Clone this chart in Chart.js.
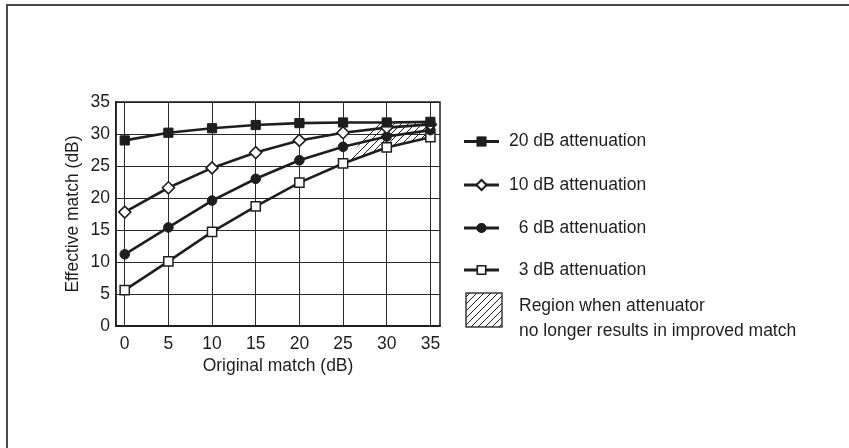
<!DOCTYPE html>
<html lang="en">
<head>
<meta charset="UTF-8">
<title>Effective match vs original match</title>
<script src="https://cdn.jsdelivr.net/npm/chart.js"></script>
<style>
  html, body { margin: 0; padding: 0; background: #fff; }
  #wrap { position: relative; width: 849px; height: 448px; }
</style>
</head>
<body>
<div id="wrap"><canvas id="grafico"></canvas></div>

<script>
// data
const originalMatch = [0, 5, 10, 15, 20, 25, 30, 35];
const att20 = [29.0, 30.2, 30.9, 31.4, 31.7, 31.8, 31.8, 31.9];
const att10 = [17.8, 21.6, 24.7, 27.1, 29.0, 30.2, 31.0, 31.5];
const att6  = [11.2, 15.4, 19.6, 23.0, 25.9, 28.0, 29.6, 30.6];
const att3  = [5.6, 10.1, 14.7, 18.7, 22.4, 25.4, 27.9, 29.5];
const regionX = [25, 29, 35, 35, 30, 25];
const regionY = [25.4, 31.8, 31.9, 29.5, 27.9, 25.4];
const xTicks = [0, 5, 10, 15, 20, 25, 30, 35];
const seriesLabels = ['20 dB attenuation', '10 dB attenuation', '6 dB attenuation', '3 dB attenuation'];
const regionLabel = ['Region when attenuator', 'no longer results in improved match'];

const ink = '#1e1e1e';
const fontFam = '"Liberation Sans", Arial, sans-serif';

function pts(ys) {
    return originalMatch.map(function (x, i) { return { x: x, y: ys[i] } })
}

// hatch pattern for the region
function hatch() {
    let c = document.createElement('canvas')
    c.width = 7; c.height = 7
    let g = c.getContext('2d')
    g.strokeStyle = ink
    g.lineWidth = 1
    g.beginPath()
    g.moveTo(0, 7); g.lineTo(7, 0)
    g.moveTo(-1, 1); g.lineTo(1, -1)
    g.moveTo(6, 8); g.lineTo(8, 6)
    g.stroke()
    return g.createPattern(c, 'repeat')
}
const hatchFill = hatch()

const styles = [
    { pointStyle: 'rect', radius: 6.5, fill: ink, bw: 1 },
    { pointStyle: 'rectRot', radius: 6, fill: '#fff', bw: 1.6 },
    { pointStyle: 'circle', radius: 4.8, fill: ink, bw: 1 },
    { pointStyle: 'rect', radius: 6.5, fill: '#fff', bw: 1.5 }
]
const series = [att20, att10, att6, att3]

let datasets = series.map(function (s, i) {
    return {
        label: seriesLabels[i],
        data: pts(s),
        borderColor: ink,
        borderWidth: 2.6,
        pointStyle: styles[i].pointStyle,
        pointRadius: styles[i].radius,
        pointBackgroundColor: styles[i].fill,
        pointBorderColor: ink,
        pointBorderWidth: styles[i].bw,
        fill: false,
        tension: 0
    }
})
datasets.push({
    label: 'region',
    data: regionX.map(function (x, i) { return { x: x, y: regionY[i] } }),
    borderWidth: 0,
    borderColor: 'rgba(0,0,0,0)',
    backgroundColor: hatchFill,
    pointRadius: 0,
    fill: 'shape',
    tension: 0
})

// frame round the plot, outer border, and the legend on the right
const extras = {
    id: 'extras',
    beforeDraw(chart) {
        const ctx = chart.ctx
        ctx.save()
        ctx.strokeStyle = '#4a4a4a'
        ctx.lineWidth = 2
        ctx.beginPath()
        ctx.moveTo(7, 448); ctx.lineTo(7, 5); ctx.lineTo(849, 5)
        ctx.stroke()
        ctx.restore()
    },
    afterDraw(chart) {
        const ctx = chart.ctx
        const a = chart.chartArea
        ctx.save()
        ctx.strokeStyle = ink
        ctx.lineWidth = 1.5
        ctx.strokeRect(a.left, a.top, a.right - a.left, a.bottom - a.top)

        ctx.font = '17.5px ' + fontFam
        ctx.fillStyle = ink
        ctx.textBaseline = 'middle'
        const x0 = a.right + 24, x1 = a.right + 59, xm = (x0 + x1) / 2
        const tx = a.right + 69
        const rowY = [141.5, 185, 228, 270]
        const wide = ctx.measureText('20').width
        seriesLabels.forEach(function (lab, i) {
            const y = rowY[i]
            ctx.strokeStyle = ink
            ctx.lineWidth = 3
            ctx.beginPath(); ctx.moveTo(x0, y); ctx.lineTo(x1, y); ctx.stroke()
            Chart.helpers.drawPoint(ctx, {
                pointStyle: styles[i].pointStyle, radius: styles[i].radius * 0.75, borderWidth: 1.3
            }, xm, y)
            ctx.fillStyle = styles[i].fill
            ctx.strokeStyle = ink
            ctx.lineWidth = 1.3
            ctx.beginPath()
            if (styles[i].pointStyle === 'circle') {
                ctx.arc(xm, y, styles[i].radius * 0.8, 0, Math.PI * 2)
            } else if (styles[i].pointStyle === 'rectRot') {
                const r = styles[i].radius * 0.75
                ctx.moveTo(xm, y - r); ctx.lineTo(xm + r, y); ctx.lineTo(xm, y + r); ctx.lineTo(xm - r, y); ctx.closePath()
            } else {
                const h = styles[i].radius * 0.62
                ctx.rect(xm - h, y - h, 2 * h, 2 * h)
            }
            ctx.fill(); ctx.stroke()
            const num = lab.split(' ')[0]
            ctx.fillStyle = ink
            ctx.fillText(lab, tx + wide - ctx.measureText(num).width, y)
        })

        // hatched legend box
        ctx.fillStyle = hatchFill
        ctx.fillRect(a.right + 26, 293, 36, 34)
        ctx.strokeStyle = ink
        ctx.lineWidth = 1.3
        ctx.strokeRect(a.right + 26, 293, 36, 34)
        ctx.fillStyle = ink
        ctx.fillText(regionLabel[0], a.right + 79, 306.5)
        ctx.fillText(regionLabel[1], a.right + 79, 331.5)
        ctx.restore()
    }
}

const config = {
    type: 'line',
    data: { datasets: datasets },
    plugins: [extras],
    options: {
        responsive: false,
        animation: false,
        devicePixelRatio: 1,
        layout: { padding: { left: 50, top: 102, right: 409, bottom: 71 } },
        plugins: {
            legend: { display: false },
            tooltip: { enabled: false },
            filler: { propagate: false }
        },
        scales: {
            x: {
                type: 'linear',
                min: -1,
                max: 36.1,
                afterBuildTicks: function (scale) {
                    scale.ticks = xTicks.map(function (v) { return { value: v } })
                },
                afterFit: function (scale) { scale.height = 51 },
                grid: { color: '#2a2a2a', lineWidth: 1, drawTicks: false },
                border: { display: true, color: ink, width: 1.5 },
                ticks: { color: ink, padding: 8, font: { family: fontFam, size: 17.5 } },
                title: {
                    display: true, text: 'Original match (dB)', color: ink,
                    padding: { top: 0, bottom: 0 },
                    font: { family: fontFam, size: 17.5 }
                }
            },
            y: {
                min: 0,
                max: 35,
                afterFit: function (scale) { scale.width = 66 },
                grid: { color: '#2a2a2a', lineWidth: 1, drawTicks: false },
                border: { display: true, color: ink, width: 1.5 },
                ticks: { stepSize: 5, color: ink, padding: 6, font: { family: fontFam, size: 17.5 } },
                title: {
                    display: true, text: 'Effective match (dB)', color: ink,
                    padding: { top: 13, bottom: 0 },
                    font: { family: fontFam, size: 17.5 }
                }
            }
        }
    }
}

const canvas = document.getElementById('grafico')
canvas.width = 849
canvas.height = 448
let myChart = new Chart(canvas, config)
</script>
</body>
</html>
